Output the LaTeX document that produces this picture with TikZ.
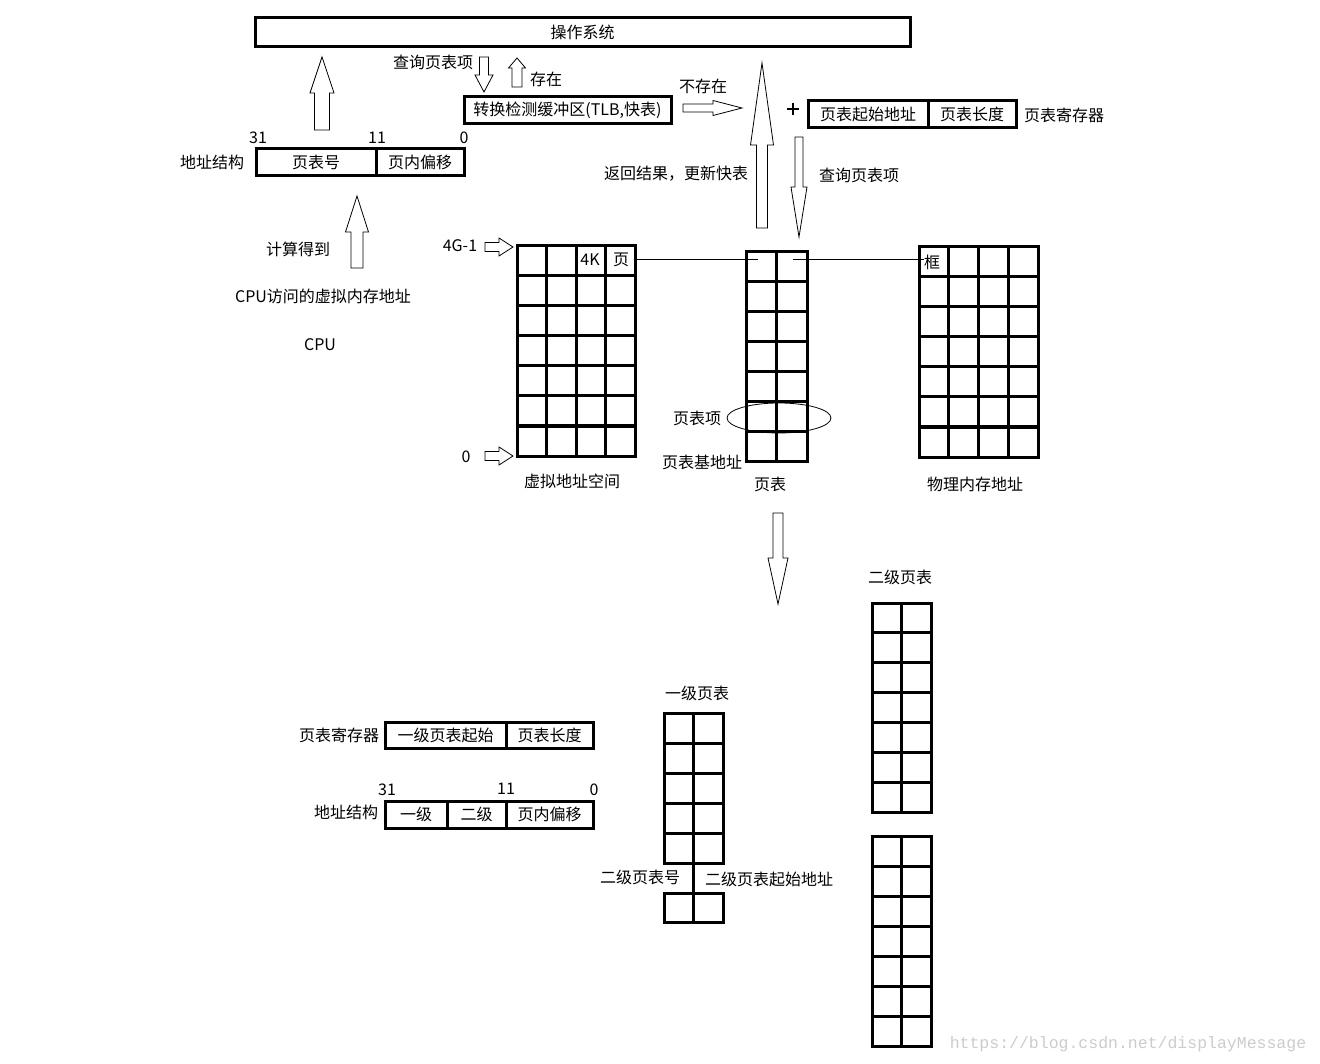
\documentclass[tikz,border=0pt]{standalone}
\usepackage{fontspec}
\newfontfamily\cjk{Noto Sans CJK SC}
\newfontfamily\wmfont{Liberation Mono}

\tikzset{
  every node/.style={font=\cjk\fontsize{16}{18}\selectfont, inner sep=0pt},
  regbox/.style={draw, line width=3pt, inner sep=0pt},
  gridline/.style={line width=3pt, line cap=rect},
  blk/.style={draw, line width=0.8pt, fill=white},
  thinline/.style={line width=0.8pt},
}

% vertical block arrow: x, tip y, base y, shaft half width, head half width, head y
\newcommand{\vblk}[6]{\draw[blk] (#1-#4,#3) -- (#1-#4,#6) -- (#1-#5,#6) -- (#1,#2) -- (#1+#5,#6) -- (#1+#4,#6) -- (#1+#4,#3) -- cycle;}
% horizontal block arrow: y, tip x, base x, shaft half width, head half width, head x
\newcommand{\hblk}[6]{\draw[blk] (#3,#1-#4) -- (#6,#1-#4) -- (#6,#1-#5) -- (#2,#1) -- (#6,#1+#5) -- (#6,#1+#4) -- (#3,#1+#4) -- cycle;}
% table of cells: left, top, cols, rows, cell width, cell height
\newcommand{\cells}[6]{%
  \foreach \i in {0,...,#3} \draw[gridline] (#1+\i*#5,#2) -- (#1+\i*#5,#2+#4*#6);
  \foreach \j in {0,...,#4} \draw[gridline] (#1,#2+\j*#6) -- (#1+#3*#5,#2+\j*#6);}

\begin{document}
\begin{tikzpicture}[x=1pt,y=-1pt]
\useasboundingbox[fill=white] (0,0) rectangle (1320,1064);

% top: os, tlb, registers
\node[regbox, minimum width=655, minimum height=29] (os) at (582.5,32.5) {操作系统};
\node[regbox, minimum width=207, minimum height=27] (tlb) at (567.5,110.5) {转换检测缓冲区(TLB,快表)};
\node[regbox, minimum width=120, minimum height=27] (ptstart) at (868,114.5) {页表起始地址};
\node[regbox, minimum width=88, minimum height=27] (ptlen) at (972,114.5) {页表长度};
\node (ptreg) at (1064,115) {页表寄存器};
\draw[line width=2.2pt] (787,109) -- (799,109) (793,103) -- (793,115); % plus sign
\coordinate (plus) at (793,109);

\node (q1) at (433,62) {查询页表项};
\node (hit) at (546,79) {存在};
\node (miss) at (703,86) {不存在};
\node (ret) at (676,174) {返回结果，更新快表};
\node (q2) at (859,175) {查询页表项};

\vblk{322}{57}{130}{7.5}{12}{93}
\vblk{484}{92}{57}{4.5}{9}{75}
\vblk{517}{58}{87}{5}{8.5}{68}
\hblk{108}{742}{683}{4}{7.5}{713}
\vblk{762}{63}{228}{5.5}{11.5}{145}
\vblk{799}{237}{137}{4}{8}{187}

% address structure
\node (as1) at (212,162) {地址结构};
\node[regbox, minimum width=120, minimum height=27] (pno) at (316,162.5) {页表号};
\node[regbox, minimum width=88, minimum height=27] (poff) at (420,162.5) {页内偏移};
\node (b31) at (258,138) {31};
\node (b11) at (377,138) {11};
\node (b0) at (464,138) {0};

\vblk{357}{196}{268}{6}{11.5}{232}
\node (calc) at (298,249) {计算得到};
\node (vaddr) at (323,296) {CPU访问的虚拟内存地址};
\node (cpu) at (320,345) {CPU};

% virtual space
\cells{517}{246}{4}{7}{29.5}{30}
\node (vtop) at (460,246) {4G-1};
\node (vbot) at (466,457) {0};
\hblk{247}{513}{485}{4.5}{9}{499}
\hblk{456}{513}{485}{4.5}{9}{499}
\node (k4) at (590,260) {4K};
\node (pg) at (621,260) {页};
\node (vspace) at (572,481) {虚拟地址空间};

% page table
\cells{746}{252}{2}{7}{30.5}{29.86}
\draw[thinline] (779,418) ellipse [x radius=52, y radius=15];
\node (pte) at (697,418) {页表项};
\node (ptbase) at (702,462) {页表基地址};
\node (pt) at (770,484) {页表};
\coordinate (ptl) at (758,259);
\coordinate (ptr) at (793,259);

% physical memory
\cells{919}{247}{4}{7}{29.75}{30}
\node (fr) at (932,262) {框};
\node (phys) at (975,484) {物理内存地址};

\draw[thinline] (pg.east) ++(6,-1) -- (ptl);
\draw[thinline] (ptr) -- (fr.west |- ptr);

% two-level
\vblk{778}{604}{513}{5}{10}{558}

\node (l2name) at (900,577) {二级页表};
\cells{872}{603}{2}{7}{29.5}{29.9}
\cells{872}{836}{2}{7}{29.5}{30}

\node (l1name) at (697,693) {一级页表};
\cells{664}{713}{2}{5}{29.5}{30}
\draw[gridline] (693.5,863) -- (693.5,893);
\cells{664}{893}{2}{1}{29.5}{29.5}
\node (l2no) at (640,877) {二级页表号};
\node (l2start) at (769,879) {二级页表起始地址};

\node (ptreg2) at (339,735) {页表寄存器};
\node[regbox, minimum width=121, minimum height=26] (l1start) at (445.5,735) {一级页表起始};
\node[regbox, minimum width=87, minimum height=26] (ptlen2) at (549.5,735) {页表长度};

\node (as2) at (346,812) {地址结构};
\node[regbox, minimum width=62, minimum height=27] (lv1) at (416,814.5) {一级};
\node[regbox, minimum width=59, minimum height=27] (lv2) at (476.5,814.5) {二级};
\node[regbox, minimum width=87, minimum height=27] (off2) at (549.5,814.5) {页内偏移};
\node (c31) at (387,790) {31};
\node (c11) at (506,789) {11};
\node (c0) at (594,790) {0};

\node[font=\wmfont\fontsize{16.5}{18}\selectfont, text=black!20] (wm) at (1128,1044) {https://blog.csdn.net/displayMessage};
\end{tikzpicture}
\end{document}
